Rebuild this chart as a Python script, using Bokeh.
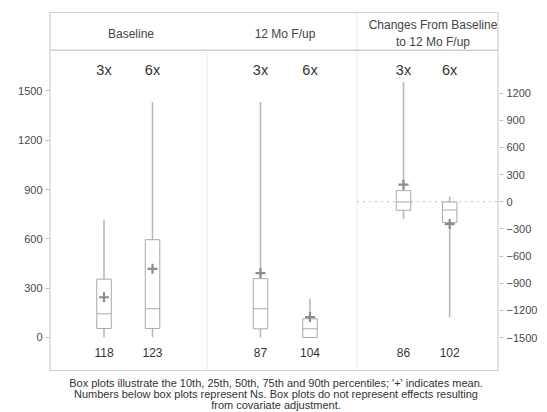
from bokeh.plotting import figure
from bokeh.models import Range1d, LinearAxis, FixedTicker, Label
from bokeh.embed import file_html
from bokeh.resources import INLINE

# Panels and groups
panels = ["Baseline", "12 Mo F/up", "Changes From Baseline", "to 12 Mo F/up"]
groups = ["3x", "6x"]

# Percentile summaries per panel, ordered [3x, 6x]
p10 = [[2, 2], [0, 0], [-190, -1277]]
q1 = [[55, 55], [53, 0], [-95, -229]]
median = [[144, 175], [175, 53], [-3, -92]]
q3 = [[355, 595], [358, 114], [122, -3]]
p90 = [[717, 1433], [1433, 236], [1319, 55]]
mean = [[245, 418], [392, 124], [188, -247]]
ns = [[118, 123], [87, 104], [86, 102]]

left_ticks = [0, 300, 600, 900, 1200, 1500]
right_ticks = [1200, 900, 600, 300, 0, -300, -600, -900, -1200, -1500]

footnote = ["Box plots illustrate the 10th, 25th, 50th, 75th and 90th percentiles; '+' indicates mean.",
            "Numbers below box plots represent Ns. Box plots do not represent effects resulting",
            "from covariate adjustment."]

FONT = "Liberation Sans"
BOX = "#a9a9a9"
WHISK = "#b9b9b9"
MEANC = "#8c8c8c"
BORDER = "#cfcfcf"

# panel layout along x: the boxed area runs from 0 to 448
edges = [0, 157, 307, 448]
slots = [[54, 102.5], [53.5, 103], [46.5, 92.7]]
box_w = 14.5

# value limits of the boxed area on the left scale
y_lo, y_hi = -200.8, 1977.7

p = figure(width=547, height=412, x_range=Range1d(-4.5, 453.5), y_range=Range1d(-456.4, 2002),
           output_backend="svg", toolbar_location=None,
           min_border_left=45, min_border_right=44, min_border_top=8, min_border_bottom=0)
p.extra_y_ranges = {"chg": Range1d(-2327.7, 2133.4)}

p.xaxis.visible = False
p.yaxis.visible = False
p.xgrid.visible = False
p.ygrid.visible = False
p.outline_line_color = None
p.background_fill_color = "white"
p.border_fill_color = "white"


def style_axis(ax, tick_in):
    ax.axis_line_color = None
    ax.major_tick_line_color = "#c0c0c0"
    ax.major_tick_out = 0
    ax.major_tick_in = tick_in
    ax.minor_tick_line_color = None
    ax.major_label_text_font = FONT
    ax.major_label_text_font_size = "11px"
    ax.major_label_text_color = "#4a4a4a"
    ax.major_label_standoff = 3


lax = LinearAxis(ticker=FixedTicker(ticks=left_ticks))
style_axis(lax, 4)
p.add_layout(lax, "left")
rax = LinearAxis(y_range_name="chg", ticker=FixedTicker(ticks=right_ticks))
style_axis(rax, 4)
p.add_layout(rax, "right")

# outer box
p.segment(x0=[edges[0], edges[0], edges[0], edges[3]],
          y0=[y_hi, y_lo, y_lo, y_lo],
          x1=[edges[3], edges[3], edges[0], edges[3]],
          y1=[y_hi, y_lo, y_hi, y_hi],
          line_color=BORDER, line_width=1.2)

# header separator and panel dividers
header_y = 1748
p.segment(x0=[edges[0]], y0=[header_y], x1=[edges[3]], y1=[header_y],
          line_color=BORDER, line_width=1.6)
p.segment(x0=[edges[1]], y0=[header_y], x1=[edges[1]], y1=[y_lo],
          line_color="#d0d0d0", line_width=1, line_dash="1 1")
p.segment(x0=[edges[2]], y0=[y_hi], x1=[edges[2]], y1=[y_lo],
          line_color="#d0d0d0", line_width=1, line_dash="1 1")
# zero reference for change panel
p.segment(x0=[edges[2]], y0=[0], x1=[edges[3]], y1=[0], y_range_name="chg",
          line_color="#c8c8c8", line_width=1.2, line_dash="2 4")

for i in range(3):
    rng = "chg" if i == 2 else "default"
    xs = [edges[i] + s for s in slots[i]]
    p.segment(x0=xs, y0=p10[i], x1=xs, y1=q1[i], y_range_name=rng,
              line_color=WHISK, line_width=1.6)
    p.segment(x0=xs, y0=q3[i], x1=xs, y1=p90[i], y_range_name=rng,
              line_color=WHISK, line_width=1.6)
    p.vbar(x=xs, bottom=q1[i], top=q3[i], width=box_w, y_range_name=rng,
           fill_color="white", line_color=BOX, line_width=1)
    p.segment(x0=[x - box_w / 2 for x in xs], y0=median[i],
              x1=[x + box_w / 2 for x in xs], y1=median[i], y_range_name=rng,
              line_color=BOX, line_width=1)
    p.scatter(x=xs, y=mean[i], marker="cross", size=10, line_width=2.2,
              line_color=MEANC, y_range_name=rng)
    for j, x in enumerate(xs):
        p.add_layout(Label(x=x, y=1625, text=groups[j], text_align="center",
                           text_baseline="middle", text_font=FONT,
                           text_font_size="14.5px", text_color="#333333"))
        p.add_layout(Label(x=x, y=-91, text=str(ns[i][j]), text_align="center",
                           text_baseline="middle", text_font=FONT,
                           text_font_size="12px", text_color="#333333"))

# panel headers
head = dict(text_align="center", text_baseline="middle", text_font=FONT,
            text_font_size="12px", text_color="#444444")
p.add_layout(Label(x=81, y=1844, text=panels[0], **head))
p.add_layout(Label(x=235, y=1844, text=panels[1], **head))
p.add_layout(Label(x=383, y=1899, text=panels[2], **head))
p.add_layout(Label(x=383, y=1797, text=panels[3], **head))

# footnote under the boxed area
for line, yv in zip(footnote, [-274, -341, -408]):
    p.add_layout(Label(x=226, y=yv, text=line, text_align="center", text_baseline="middle",
                       text_font=FONT, text_font_size="11px", text_color="#333333"))

open("out.html", "w").write(file_html(p, INLINE))
